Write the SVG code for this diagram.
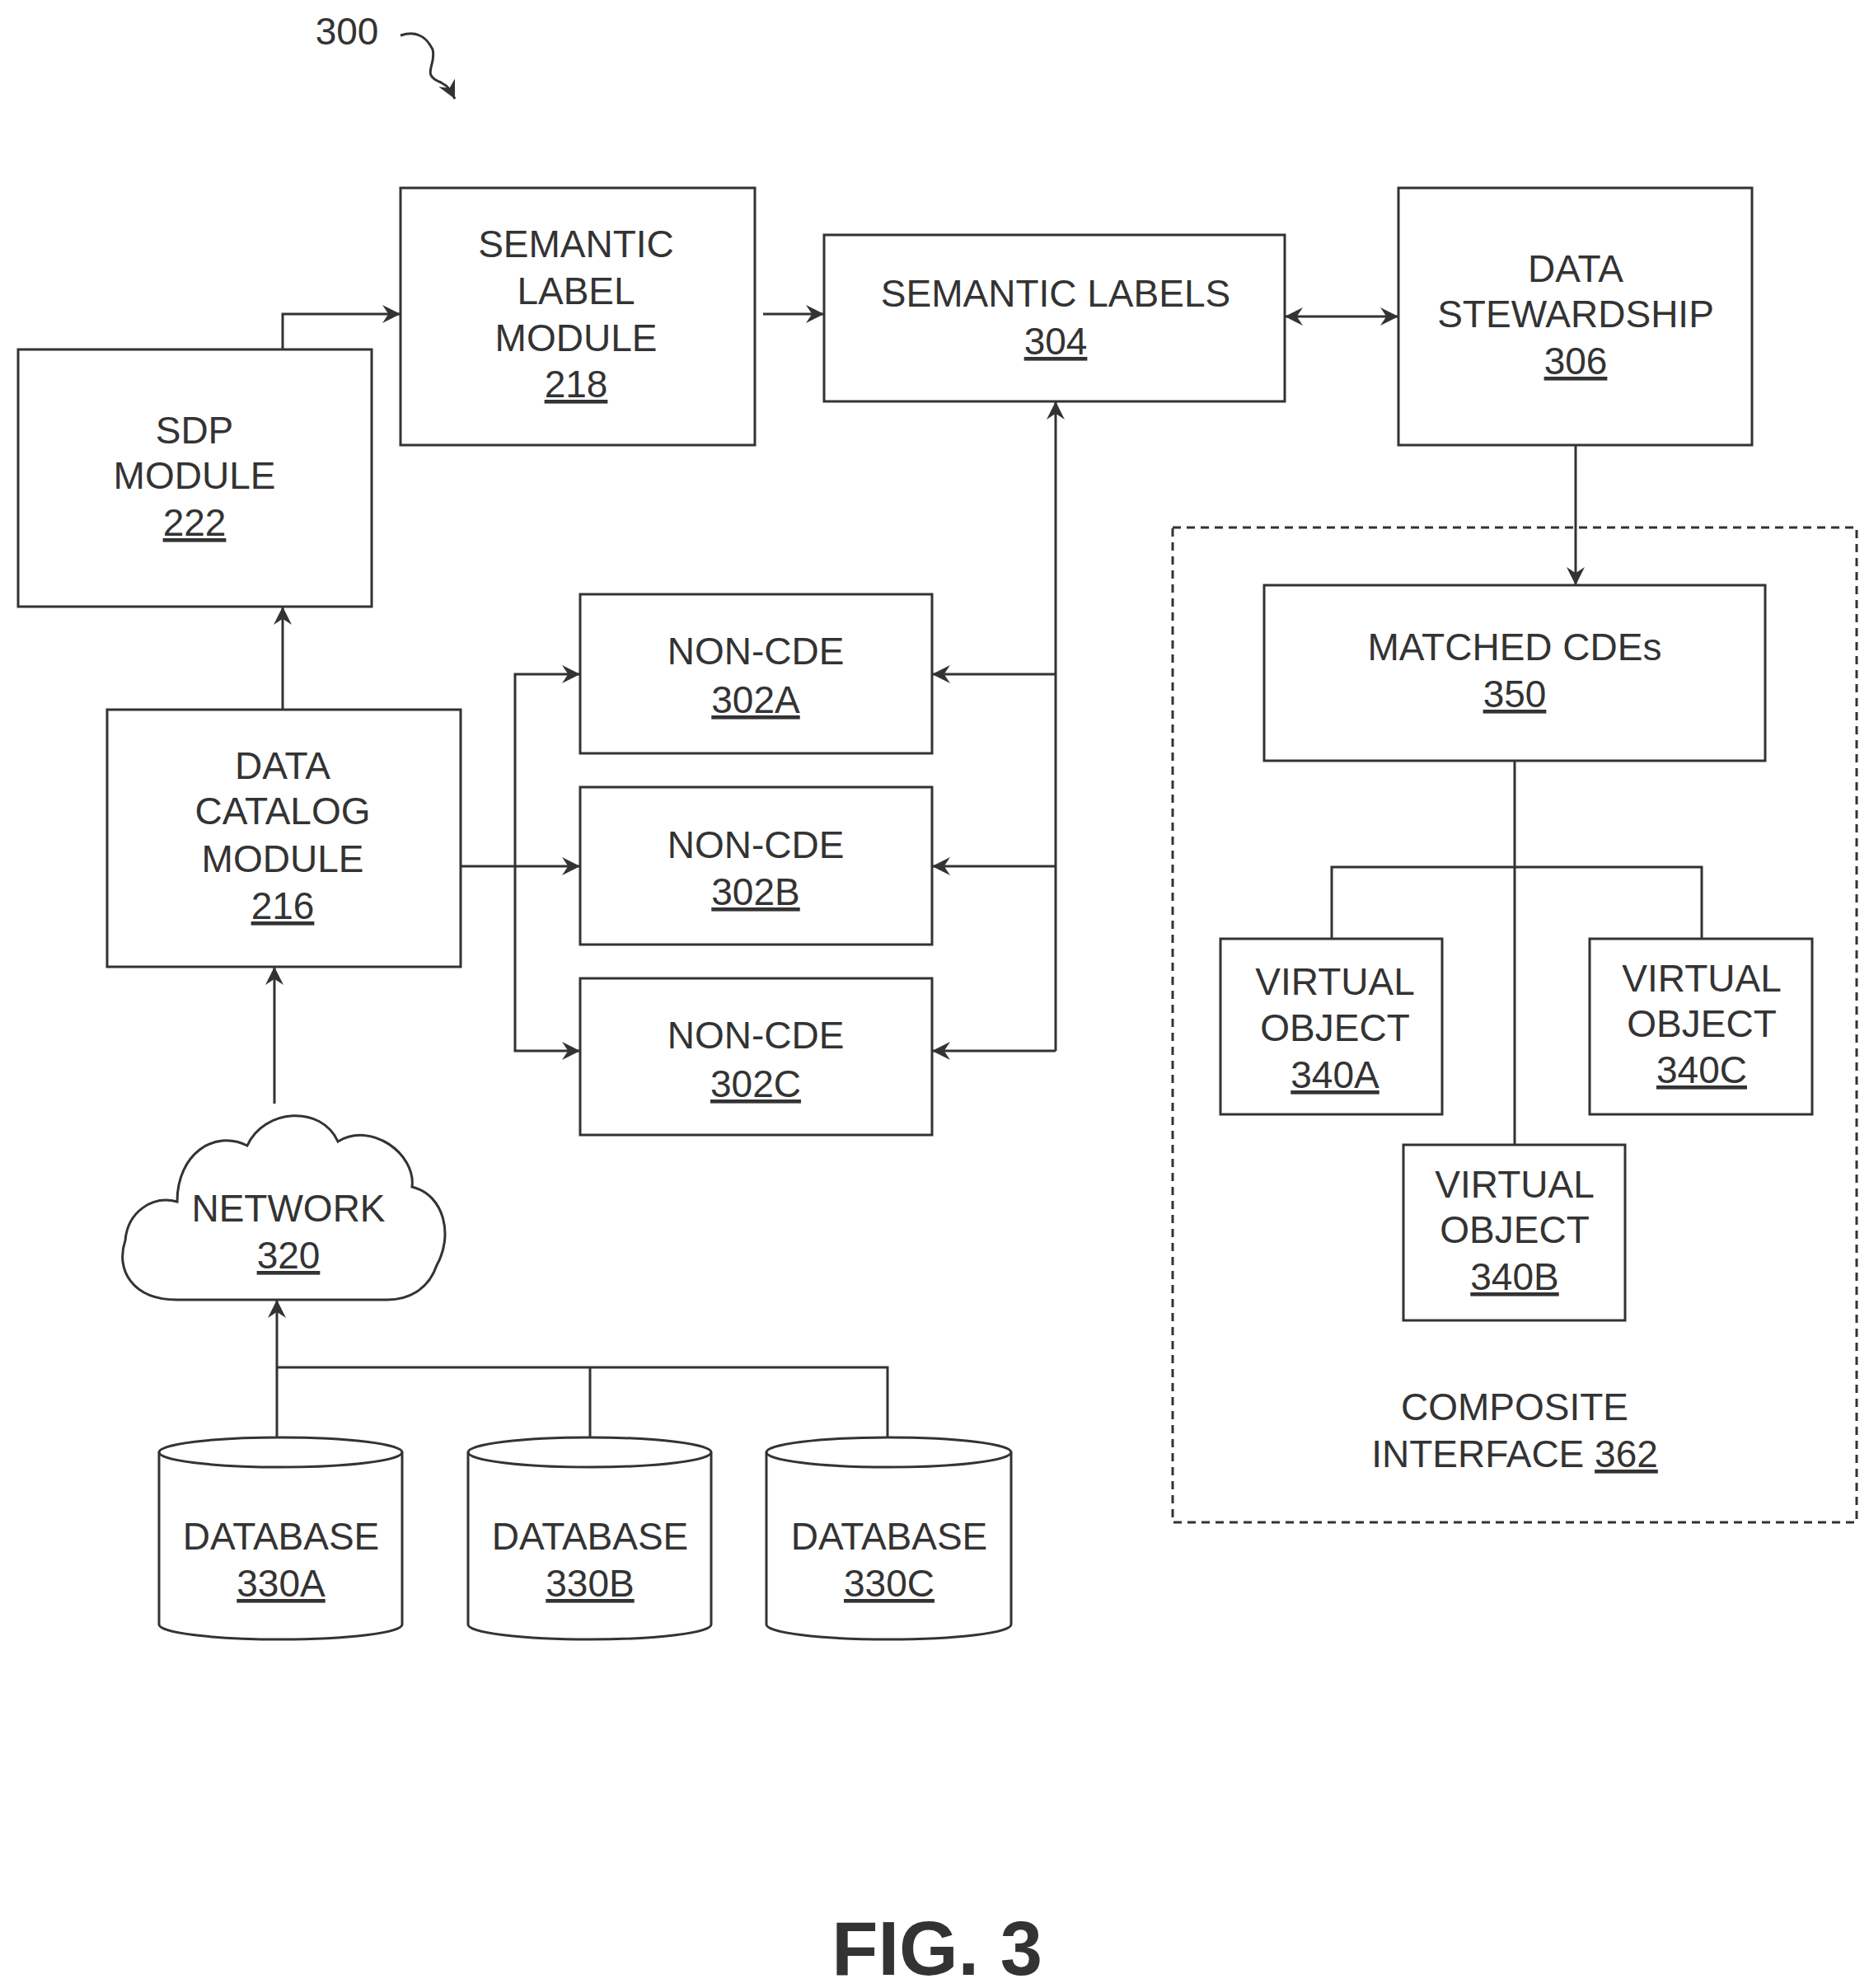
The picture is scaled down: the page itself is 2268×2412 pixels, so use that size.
<svg xmlns="http://www.w3.org/2000/svg" width="2268" height="2412" viewBox="0 0 2268 2412">
<style>
.b{fill:#fff;stroke:#333;stroke-width:3}
.t{font-family:"Liberation Sans",Arial,sans-serif;font-size:46px;fill:#333;text-anchor:middle}
.u{text-decoration:underline}
.c{fill:none;stroke:#333;stroke-width:3}
</style>
<defs>
<marker id="a" viewBox="0 0 10 10" refX="10" refY="5" markerWidth="9" markerHeight="9" orient="auto-start-reverse" markerUnits="userSpaceOnUse"><path d="M0,0 L10,5 L0,10 L3,5 Z" fill="#333" transform="scale(1)"/></marker>
<marker id="m" viewBox="0 0 12 12" refX="12" refY="6" markerWidth="22" markerHeight="22" orient="auto-start-reverse" markerUnits="userSpaceOnUse"><path d="M0,0 L12,6 L0,12 L4,6 Z" fill="#333"/></marker>
</defs>
<rect width="2268" height="2412" fill="#fff"/>
<text class="t" x="421" y="54">300</text>
<path class="c" d="M486,43 C510,35 520,50 525,60 C530,80 510,90 535,100 C545,105 548,112 552,120" marker-end="url(#m)"/>

<g id="connectors" class="c">
<path d="M343,424 V381 H486" marker-end="url(#m)"/>
<path d="M926,381 H1000" marker-end="url(#m)"/>
<path d="M1559,384 H1697" marker-start="url(#m)" marker-end="url(#m)"/>
<path d="M1912,540 V710" marker-end="url(#m)"/>
<path d="M343,861 V736" marker-end="url(#m)"/>
<path d="M333,1339 V1173" marker-end="url(#m)"/>
<path d="M336,1751 V1577" marker-end="url(#m)"/>
<path d="M336,1659 H1077 V1751 M716,1659 V1751"/>
<path d="M559,1051 H704" marker-end="url(#m)"/>
<path d="M625,1051 V818 H704" marker-end="url(#m)"/>
<path d="M625,1051 V1275 H704" marker-end="url(#m)"/>
<path d="M1281,1275 V487" marker-end="url(#m)"/>
<path d="M1281,818 H1131" marker-end="url(#m)"/>
<path d="M1281,1051 H1131" marker-end="url(#m)"/>
<path d="M1281,1275 H1131" marker-end="url(#m)"/>
<path d="M1838,923 V1389 M1616,1139 V1052 H2065 V1139"/>
</g>

<g id="composite"><rect x="1423" y="640" width="830" height="1207" fill="none" stroke="#333" stroke-width="3" stroke-dasharray="10,7"/>
<text class="t" x="1838" y="1723">COMPOSITE</text><text class="t" x="1838" y="1780">INTERFACE <tspan class="u">362</tspan></text></g>

<g id="sdp"><rect class="b" x="22" y="424" width="429" height="312"/>
<text class="t" x="236" y="538">SDP</text><text class="t" x="236" y="593">MODULE</text><text class="t u" x="236" y="650">222</text></g>
<g id="slm"><rect class="b" x="486" y="228" width="430" height="312"/>
<text class="t" x="699" y="312">SEMANTIC</text><text class="t" x="699" y="369">LABEL</text><text class="t" x="699" y="426">MODULE</text><text class="t u" x="699" y="482">218</text></g>
<g id="sl"><rect class="b" x="1000" y="285" width="559" height="202"/>
<text class="t" x="1281" y="372">SEMANTIC LABELS</text><text class="t u" x="1281" y="430">304</text></g>
<g id="ds"><rect class="b" x="1697" y="228" width="429" height="312"/>
<text class="t" x="1912" y="342">DATA</text><text class="t" x="1912" y="397">STEWARDSHIP</text><text class="t u" x="1912" y="454">306</text></g>
<g id="mc"><rect class="b" x="1534" y="710" width="608" height="213"/>
<text class="t" x="1838" y="801">MATCHED CDEs</text><text class="t u" x="1838" y="858">350</text></g>
<g id="vo340a"><rect class="b" x="1481" y="1139" width="269" height="213"/>
<text class="t" x="1620" y="1207">VIRTUAL</text><text class="t" x="1620" y="1263">OBJECT</text><text class="t u" x="1620" y="1320">340A</text></g>
<g id="vo340c"><rect class="b" x="1929" y="1139" width="270" height="213"/>
<text class="t" x="2065" y="1203">VIRTUAL</text><text class="t" x="2065" y="1258">OBJECT</text><text class="t u" x="2065" y="1314">340C</text></g>
<g id="vo340b"><rect class="b" x="1703" y="1389" width="269" height="213"/>
<text class="t" x="1838" y="1453">VIRTUAL</text><text class="t" x="1838" y="1508">OBJECT</text><text class="t u" x="1838" y="1565">340B</text></g>
<g id="dc"><rect class="b" x="130" y="861" width="429" height="312"/>
<text class="t" x="343" y="945">DATA</text><text class="t" x="343" y="1000">CATALOG</text><text class="t" x="343" y="1058">MODULE</text><text class="t u" x="343" y="1115">216</text></g>
<g id="n302a"><rect class="b" x="704" y="721" width="427" height="193"/>
<text class="t" x="917" y="806">NON-CDE</text><text class="t u" x="917" y="865">302A</text></g>
<g id="n302b"><rect class="b" x="704" y="955" width="427" height="191"/>
<text class="t" x="917" y="1041">NON-CDE</text><text class="t u" x="917" y="1098">302B</text></g>
<g id="n302c"><rect class="b" x="704" y="1187" width="427" height="190"/>
<text class="t" x="917" y="1272">NON-CDE</text><text class="t u" x="917" y="1331">302C</text></g>
<g id="network"><path class="b" d="M215,1577 C160,1577 140,1540 152,1505 C155,1470 185,1450 215,1458 C215,1400 260,1370 300,1390 C320,1345 390,1340 410,1385 C450,1360 505,1400 500,1440 C540,1450 550,1500 530,1535 C520,1565 495,1577 470,1577 Z"/>
<text class="t" x="350" y="1482">NETWORK</text><text class="t u" x="350" y="1539">320</text></g>
<g id="db330a"><path class="b" d="M193,1762 A147,18 0 0 1 488,1762 V1971 A147,18 0 0 1 193,1971 Z"/><path class="c" d="M193,1762 A147,18 0 0 0 488,1762"/>
<text class="t" x="341" y="1880">DATABASE</text><text class="t u" x="341" y="1937">330A</text></g>
<g id="db330b"><path class="b" d="M568,1762 A147,18 0 0 1 863,1762 V1971 A147,18 0 0 1 568,1971 Z"/><path class="c" d="M568,1762 A147,18 0 0 0 863,1762"/>
<text class="t" x="716" y="1880">DATABASE</text><text class="t u" x="716" y="1937">330B</text></g>
<g id="db330c"><path class="b" d="M930,1762 A148,18 0 0 1 1227,1762 V1971 A148,18 0 0 1 930,1971 Z"/><path class="c" d="M930,1762 A148,18 0 0 0 1227,1762"/>
<text class="t" x="1079" y="1880">DATABASE</text><text class="t u" x="1079" y="1937">330C</text></g>
<text x="1137" y="2396" font-family="Liberation Sans,Arial,sans-serif" font-size="92" font-weight="bold" fill="#333" text-anchor="middle">FIG. 3</text>
</svg>
